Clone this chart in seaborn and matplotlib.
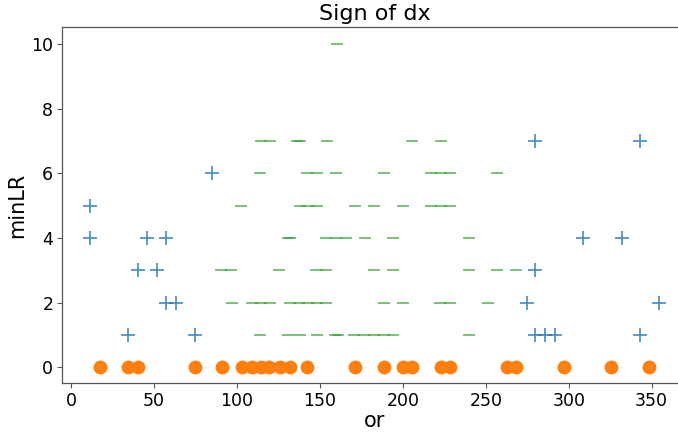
import matplotlib
matplotlib.use("Agg")
import matplotlib.pyplot as plt
import numpy as np
import pandas as pd
import seaborn as sns

sns.set_style("ticks")
plt.rcParams["text.color"] = "black"
plt.rcParams["axes.labelcolor"] = "black"
plt.rcParams["xtick.color"] = "black"
plt.rcParams["ytick.color"] = "black"

# -- positive sign ("+")
pos_or = [11.3, 11.3, 34.4, 40.4, 45.8, 51.7, 57.1, 57.1, 63.1, 74.6, 85.0,
          279.6, 279.6, 274.6, 279.6, 285.7, 291.8, 308.7, 331.9, 342.9, 342.9, 354.6]
pos_minLR = [5, 4, 1, 3, 4, 3, 4, 2, 2, 1, 6,
             7, 3, 2, 1, 1, 1, 4, 4, 1, 7, 2]

# -- zero sign ("_"), row by row
zero_or = [160.5,
           114.4, 119.8, 136.1, 137.9, 154.0, 205.5, 222.8,
           113.8, 142.3, 148.2, 159.6, 188.3, 216.9, 222.8, 228.6, 256.9,
           102.2, 137.7, 142.9, 148.2, 171.2, 182.5, 200.0, 216.9, 222.8, 228.6,
           130.9, 132.1, 153.8, 159.6, 165.5, 177.0, 193.9, 240.0,
           90.6, 96.5, 125.1, 147.7, 153.8, 182.4, 193.9, 240.0, 256.9, 268.3,
           96.7, 109.2, 114.4, 119.6, 132.1, 137.3, 142.7, 148.2, 153.8, 188.3, 199.9, 222.5, 228.6, 251.4,
           113.6, 130.9, 137.7, 148.0, 159.2, 160.8, 170.8, 176.7, 182.5, 188.4, 194.0, 240.0]
zero_minLR = [10,
              7, 7, 7, 7, 7, 7, 7,
              6, 6, 6, 6, 6, 6, 6, 6, 6,
              5, 5, 5, 5, 5, 5, 5, 5, 5, 5,
              4, 4, 4, 4, 4, 4, 4, 4,
              3, 3, 3, 3, 3, 3, 3, 3, 3, 3,
              2, 2, 2, 2, 2, 2, 2, 2, 2, 2, 2, 2, 2, 2,
              1, 1, 1, 1, 1, 1, 1, 1, 1, 1, 1, 1]

# -- negative sign (circles)
neg_or = [17.3, 34.4, 40.4, 74.6, 90.7, 102.8, 108.8, 114.4, 119.4, 125.9, 131.9, 142.3,
          170.9, 188.4, 199.8, 205.5, 222.8, 228.4, 262.6, 268.2, 297.1, 325.6, 348.6]
neg_minLR = [0] * len(neg_or)

df_pos = pd.DataFrame({"or": pos_or, "minLR": pos_minLR})
df_zero = pd.DataFrame({"or": zero_or, "minLR": zero_minLR})
df_neg = pd.DataFrame({"or": neg_or, "minLR": neg_minLR})

fig = plt.figure(figsize=(6.78, 4.33), dpi=100)
ax = fig.add_axes([62.3 / 678, 50.3 / 433, 625.5 / 678, 355.4 / 433])

sns.scatterplot(data=df_pos, x="or", y="minLR", marker="+", s=90, color="#1f77b4",
                alpha=0.85, linewidth=1.2, ax=ax)
sns.scatterplot(data=df_zero, x="or", y="minLR", marker="_", s=85, color="#2ca02c",
                alpha=0.75, linewidth=1.2, ax=ax)
sns.scatterplot(data=df_neg, x="or", y="minLR", marker="o", s=100, color="#ff7f0e",
                linewidth=0, ax=ax)

ax.set_xlim(-5.4, 371.8)
ax.set_ylim(-0.48, 10.52)
ax.set_xticks([0, 50, 100, 150, 200, 250, 300, 350])
ax.set_yticks([0, 2, 4, 6, 8, 10])
ax.set_title("Sign of dx", fontsize=16, pad=5)
ax.set_xlabel("or", fontsize=15, labelpad=1)
ax.set_ylabel("minLR", fontsize=15, labelpad=3)
ax.tick_params(labelsize=12.5, length=3.5, pad=3)
ax.tick_params(color="#555555")
for sp in ax.spines.values():
    sp.set_color("#555555")
    sp.set_linewidth(0.9)

fig.savefig("out.png", dpi=100)
